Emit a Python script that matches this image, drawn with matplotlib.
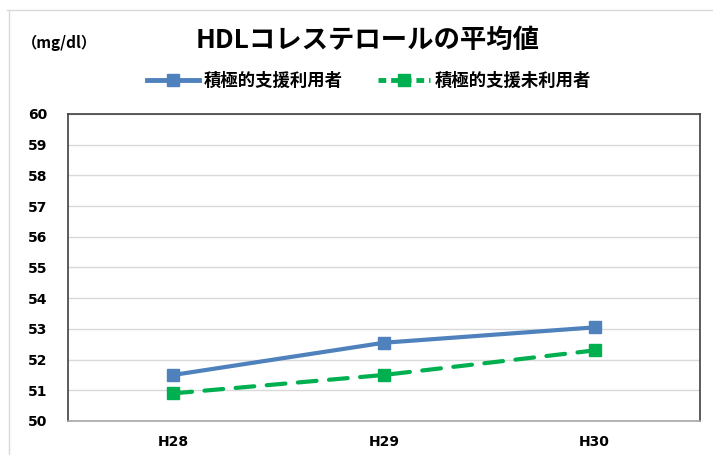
import matplotlib
matplotlib.use("Agg")
import matplotlib.pyplot as plt
from matplotlib.lines import Line2D

plt.rcParams['font.family'] = ['Noto Sans CJK JP', 'DejaVu Sans']

categories = ["H28", "H29", "H30"]
users = [51.5, 52.55, 53.05]
non_users = [50.9, 51.5, 52.3]
series_names = ["積極的支援利用者", "積極的支援未利用者"]
title = "HDLコレステロールの平均値"
unit = "（mg/dl）"
yticks = list(range(50, 61))

W, H = 713, 455
fig = plt.figure(figsize=(W / 100, H / 100), dpi=100)
ax = fig.add_axes([68 / W, 1 - 421 / H, (700 - 68) / W, (421 - 114) / H])

x = list(range(len(categories)))
blue = "#4F81BD"
green = "#00B050"
ax.plot(x, users, color=blue, lw=3, marker="s", ms=9, solid_capstyle="round", zorder=3)
ax.plot(x, non_users, color=green, lw=3, marker="s", ms=9, ls=(0, (4.5, 3)),
        dash_capstyle="round", zorder=3)

ax.set_xlim(-0.5, 2.5)
ax.set_ylim(50, 60)
ax.set_yticks(yticks)
ax.set_yticklabels([str(t) for t in yticks], fontsize=10, fontweight="bold", family="DejaVu Sans")
ax.set_xticks(x)
ax.set_xticklabels(categories, fontsize=10, fontweight="bold", family="DejaVu Sans")
ax.tick_params(length=0)
ax.tick_params(axis="y", pad=15)
ax.tick_params(axis="x", pad=10)
ax.grid(axis="y", color="#d9d9d9", lw=1)
ax.set_axisbelow(True)
for s in ["top", "left", "right"]:
    ax.spines[s].set_color("#404040")
    ax.spines[s].set_linewidth(1.2)
ax.spines["bottom"].set_color("#a6a6a6")
ax.spines["bottom"].set_linewidth(1.2)

fig.text(368 / W, 1 - 40 / H, title, ha="center", va="center", fontsize=19, fontweight="bold")
fig.text(22 / W, 1 - 43 / H, unit, ha="left", va="center", fontsize=11, fontweight="bold")

handles = [
    Line2D([], [], color=blue, lw=3.5, marker="s", ms=9),
    Line2D([], [], color=green, lw=3.5, marker="s", ms=9, ls=(0, (1.6, 1.0))),
]
fig.legend(handles, series_names, loc="center", bbox_to_anchor=(369 / W, 1 - 81 / H),
           ncol=2, frameon=False, prop={"weight": "bold", "size": 12.5},
           handlelength=3.0, columnspacing=2.0, handletextpad=0.3)

# outer chart frame
fig.add_artist(Line2D([7 / W, 1], [1 - 10 / H, 1 - 10 / H], color="#d9d9d9", lw=1,
                      transform=fig.transFigure))
fig.add_artist(Line2D([9 / W, 9 / W], [0, 1 - 10 / H], color="#d9d9d9", lw=1,
                      transform=fig.transFigure))

fig.savefig("out.png", dpi=100)
